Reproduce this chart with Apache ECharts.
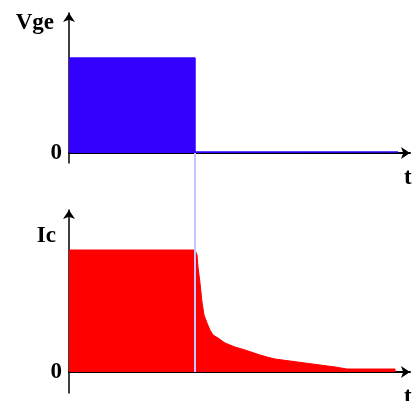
<!DOCTYPE html>
<html>
<head>
<meta charset="utf-8">
<style>
  html, body { margin: 0; padding: 0; background: #fff; }
  #chart { width: 412px; height: 401px; }
</style>
<script src="https://cdn.jsdelivr.net/npm/echarts@6/dist/echarts.min.js"></script>
</head>
<body>
<div id="chart"></div>
<script>
// Gate voltage (Vge) and collector current (Ic) during IGBT turn-off.
// Time and amplitude are in arbitrary units.
var switchTime = 126;
var vgeTime  = [0, 126, 126, 329];
var vgeValue = [95, 95, 1, 1];

var icTime  = [0, 126, 128, 129, 131, 133, 135, 138, 141, 144, 149, 151, 156, 166, 176, 191, 198, 206, 221, 236, 251, 266, 278, 326, 326];
var icValue = [122, 122, 117, 105, 89, 70, 57, 49, 42, 37, 34, 32, 29, 25, 22, 17, 15, 13, 11, 9, 7, 5, 3, 3, 0];

var vgeName = 'Vge';
var icName = 'Ic';
var timeName = 't';

function pairs(xs, ys) {
  return xs.map(function (x, i) { return [x, ys[i]]; });
}

var labelFont = { fontFamily: 'Liberation Serif', fontWeight: 'bold', fontSize: 23, color: '#000' };

function timeAxis(gridIndex, show) {
  return {
    type: 'value', gridIndex: gridIndex, min: 0, max: 341,
    show: show,
    name: timeName, nameLocation: 'end', nameGap: -6,
    nameTextStyle: Object.assign({}, labelFont, { align: 'left', verticalAlign: 'top', padding: [14, 0, 0, 0] }),
    axisLine: { show: true, onZero: true, symbol: ['none', 'arrow'], symbolSize: [9, 9], lineStyle: { color: '#000', width: 2 } },
    axisTick: { show: false }, axisLabel: { show: false }, splitLine: { show: false }
  };
}

function zeroOnly(v) { return v === 0 ? '0' : ''; }

var option = {
  animation: false,
  backgroundColor: '#fff',
  grid: [
    { left: 69, width: 341, top: 13, height: 150, outerBoundsMode: 'none' },
    { left: 69, width: 341, top: 210, height: 183, outerBoundsMode: 'none' },
    { left: 69, width: 341, top: 153, height: 219, outerBoundsMode: 'none' }
  ],
  xAxis: [timeAxis(0, true), timeAxis(1, true), timeAxis(2, false)],
  yAxis: [
    {
      type: 'value', gridIndex: 0, min: -10, max: 140, interval: 10,
      name: vgeName, nameLocation: 'end', nameGap: -10,
      nameTextStyle: Object.assign({}, labelFont, { align: 'right', verticalAlign: 'middle', padding: [0, 15, 0, 0] }),
      axisLine: { show: true, symbol: ['none', 'arrow'], symbolSize: [9, 9], lineStyle: { color: '#000', width: 1.5 } },
      axisTick: { show: false }, splitLine: { show: false },
      axisLabel: Object.assign({ formatter: zeroOnly, margin: 7 }, labelFont)
    },
    {
      type: 'value', gridIndex: 1, min: -21, max: 162, interval: 21,
      name: icName, nameLocation: 'end', nameGap: -26,
      nameTextStyle: Object.assign({}, labelFont, { align: 'right', verticalAlign: 'middle', padding: [0, 13, 0, 0] }),
      axisLine: { show: true, symbol: ['none', 'arrow'], symbolSize: [9, 9], lineStyle: { color: '#000', width: 1.5 } },
      axisTick: { show: false }, splitLine: { show: false },
      axisLabel: Object.assign({ formatter: zeroOnly, margin: 7 }, labelFont)
    },
    { type: 'value', gridIndex: 2, min: 0, max: 1, show: false }
  ],
  series: [
    {
      name: vgeName, type: 'line', xAxisIndex: 0, yAxisIndex: 0,
      data: pairs(vgeTime, vgeValue), symbol: 'none',
      lineStyle: { color: '#3300ff', width: 1.5 },
      areaStyle: { color: '#3300ff', opacity: 1 }, z: 3
    },
    {
      name: icName, type: 'line', xAxisIndex: 1, yAxisIndex: 1,
      data: pairs(icTime, icValue), symbol: 'none',
      lineStyle: { color: '#ff0000', width: 1 },
      areaStyle: { color: '#ff0000', opacity: 1 }, z: 3
    },
    {
      name: 'switch', type: 'line', xAxisIndex: 2, yAxisIndex: 2,
      data: [[switchTime, 0], [switchTime, 1]], symbol: 'none',
      lineStyle: { color: '#c4c4ff', width: 2 }, z: 5, silent: true
    }
  ]
};

var chart = echarts.init(document.getElementById('chart'), null, { renderer: 'canvas' });
chart.setOption(option);
</script>
</body>
</html>
